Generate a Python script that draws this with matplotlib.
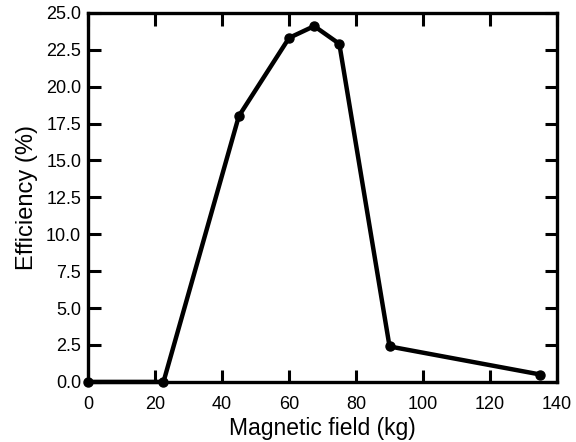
import matplotlib.pyplot as plt

field_kg = [0, 22.5, 45, 60, 67.5, 75, 90, 135]
efficiency = [0.0, 0.0, 18.0, 23.3, 24.1, 22.9, 2.4, 0.5]

xticks = [0, 20, 40, 60, 80, 100, 120, 140]
yticks = [0.0, 2.5, 5.0, 7.5, 10.0, 12.5, 15.0, 17.5, 20.0, 22.5, 25.0]

plt.rcParams['font.family'] = ['Liberation Sans', 'DejaVu Sans']

fig = plt.figure(figsize=(5.76, 4.42), dpi=100)
ax = fig.add_axes([0.153, 0.136, 0.814, 0.835])

ax.plot(field_kg, efficiency, color='black', lw=3.2, marker='o', ms=6.5,
        clip_on=False, zorder=3)

ax.set_xlim(0, 140)
ax.set_ylim(0, 25)
ax.set_xticks(xticks)
ax.set_yticks(yticks)
ax.set_yticklabels(['%.1f' % v for v in yticks])
ax.tick_params(direction='in', length=9, width=2.2, top=True, right=True,
               labelsize=13, pad=5, labeltop=False, labelright=False)
ax.tick_params(axis='x', pad=10)
for s in ax.spines.values():
    s.set_linewidth(2.4)

ax.set_xlabel('Magnetic field (kg)', fontsize=16.5, labelpad=3)
ax.set_ylabel('Efficiency (%)', fontsize=17, labelpad=6)

fig.savefig('out.png', dpi=100)
